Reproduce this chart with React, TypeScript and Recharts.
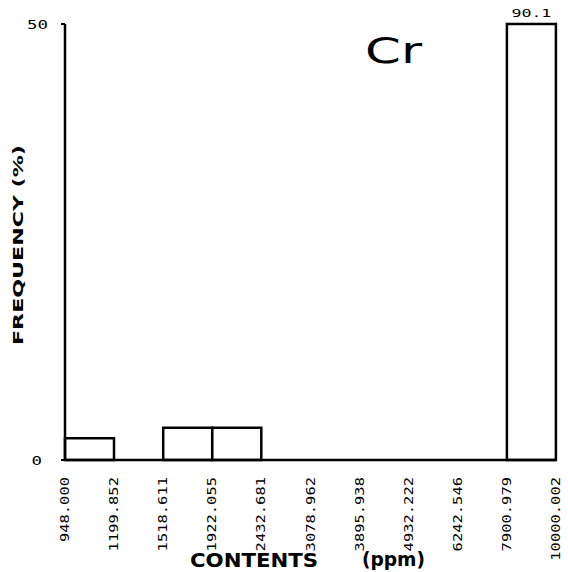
import React from "react";
import {
  BarChart,
  Bar,
  XAxis,
  YAxis,
  LabelList,
  Label,
} from "recharts";

// bin edges (ppm) and frequency (%) per bin
const edgeLabels = [
  "948.000",
  "1199.852",
  "1518.611",
  "1922.055",
  "2432.681",
  "3078.962",
  "3895.938",
  "4932.222",
  "6242.546",
  "7900.979",
  "10000.002",
];
const frequencies = [2.5, 0, 3.7, 3.7, 0, 0, 0, 0, 0, 90.1];
const yTicks = [0, 50];
const yMax = 50;
const elementName = "Cr";

const data = frequencies.map((v, i) => ({
  bin: i,
  value: v,
  shown: Math.min(v, yMax),
}));

const W = 568;
const H = 572;
const M = { top: 24, right: 12, bottom: 0, left: 0 };
const Y_W = 65;
const BAND = (W - M.left - M.right - Y_W) / frequencies.length;

const ink = "#000";
const plotFont = "'DejaVu Sans Mono', monospace";

function EdgeText({ cx, y, text }: { cx: number; y: number; text: string }) {
  const px = cx + 4;
  const py = y + 9;
  return (
    <text
      x={px}
      y={py}
      transform={`rotate(-90, ${px}, ${py})`}
      textAnchor="end"
      fontFamily={plotFont}
      fontSize={13}
      fill={ink}
      textLength={text.length * 9.3}
      lengthAdjust="spacingAndGlyphs"
    >
      {text}
    </text>
  );
}

// each bin tick shows its left edge; the last one also shows the right edge
function EdgeTick(props: any) {
  const { x, y, payload } = props;
  const i = payload.value as number;
  const left = x - BAND / 2;
  return (
    <g>
      <EdgeText cx={left} y={y} text={edgeLabels[i]} />
      {i === frequencies.length - 1 && (
        <EdgeText cx={left + BAND} y={y} text={edgeLabels[i + 1]} />
      )}
    </g>
  );
}

function YTick(props: any) {
  const { y, payload } = props;
  const text = String(payload.value);
  const right = payload.value === 0 ? 42 : 48;
  return (
    <text
      x={right}
      y={y + 5}
      textAnchor="end"
      fontFamily={plotFont}
      fontSize={13}
      fill={ink}
      textLength={text.length * 10.5}
      lengthAdjust="spacingAndGlyphs"
    >
      {text}
    </text>
  );
}

function OverflowLabel(props: any) {
  const { x, y, width, value } = props;
  if (value <= yMax) return null;
  return (
    <text
      x={x + width / 2}
      y={y - 7}
      textAnchor="middle"
      fontFamily={plotFont}
      fontSize={11}
      fill={ink}
      textLength={40}
      lengthAdjust="spacingAndGlyphs"
    >
      {String(value)}
    </text>
  );
}

function YTitle() {
  return (
    <text
      x={23}
      y={345}
      transform="rotate(-90, 23, 345)"
      fontFamily="'DejaVu Sans', sans-serif"
      fontWeight="bold"
      fontSize={14}
      fill={ink}
      textLength={200}
      lengthAdjust="spacingAndGlyphs"
    >
      FREQUENCY  (%)
    </text>
  );
}

function XTitle() {
  return (
    <g fontFamily="'DejaVu Sans', sans-serif" fontWeight="bold" fill={ink}>
      <text x={190} y={567} fontSize={20} textLength={128} lengthAdjust="spacingAndGlyphs">
        CONTENTS
      </text>
      <text x={362} y={566} fontSize={19} textLength={63} lengthAdjust="spacingAndGlyphs">
        (ppm)
      </text>
    </g>
  );
}

export default function App() {
  return (
    <div style={{ position: "absolute", left: 0, top: 0, width: W, height: H, background: "#fff" }}>
      <BarChart width={W} height={H} data={data} barCategoryGap={0} margin={M}>
        <XAxis
          dataKey="bin"
          height={112}
          axisLine={{ stroke: ink, strokeWidth: 2.5 }}
          tickLine={false}
          tick={<EdgeTick />}
          interval={0}
        >
          <Label content={<XTitle />} />
        </XAxis>
        <YAxis
          width={Y_W}
          domain={[0, yMax]}
          ticks={yTicks}
          axisLine={{ stroke: ink, strokeWidth: 2.5 }}
          tickLine={{ stroke: ink, strokeWidth: 2 }}
          tickSize={4}
          tick={<YTick />}
        >
          <Label content={<YTitle />} />
        </YAxis>
        <Bar
          dataKey="shown"
          fill="#fff"
          stroke={ink}
          strokeWidth={2.5}
          isAnimationActive={false}
        >
          <LabelList dataKey="value" content={<OverflowLabel />} />
        </Bar>
      </BarChart>
      <svg
        width={W}
        height={H}
        style={{ position: "absolute", left: 0, top: 0, pointerEvents: "none" }}
      >
        <text
          x={365}
          y={63}
          fontFamily="'DejaVu Sans', sans-serif"
          fontSize={36}
          fill={ink}
          textLength={57}
          lengthAdjust="spacingAndGlyphs"
        >
          {elementName}
        </text>
      </svg>
    </div>
  );
}
